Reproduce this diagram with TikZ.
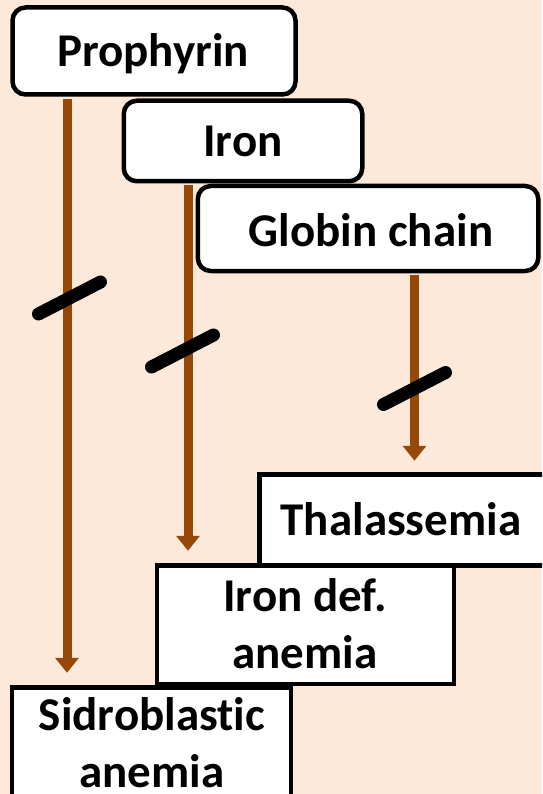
\documentclass[tikz,border=0pt]{standalone}
\usepackage{fontspec}
\setmainfont{Carlito}[Ligatures={NoCommon}]
\usetikzlibrary{arrows.meta}
\definecolor{bg}{HTML}{FDE9D9}
\definecolor{brn}{HTML}{974806}
\begin{document}
\begin{tikzpicture}[x=1pt,y=-1pt,
  rbox/.style={draw=black, line width=4.5pt, fill=white, rounded corners=13pt, inner sep=0pt},
  sbox/.style={draw=black, line width=4.5pt, fill=white, inner sep=0pt},
  lbl/.style={font=\fontsize{47}{57}\selectfont\bfseries, inner sep=0pt, anchor=base, align=center},
  arr/.style={draw=brn, line width=9pt, -{Triangle[width=23pt,length=15pt]}},
  cut/.style={line width=13pt, line cap=round, draw=black}]
\clip (0,0) rectangle (542,794);
\fill[bg] (0,0) rectangle (542,794);
% boxes
\node[rbox, minimum width=283pt, minimum height=87pt] (prop) at (154,51) {};
\node[rbox, minimum width=238.5pt, minimum height=80.5pt] (iron) at (243,141) {};
\node[rbox, minimum width=340.5pt, minimum height=85pt] (glob) at (368,228.5) {};
\node[sbox, minimum width=290pt, minimum height=91pt] (thal) at (404.5,520) {};
\node[sbox, minimum width=297pt, minimum height=118.5pt] (idef) at (305.5,624.75) {};
\node[sbox, minimum width=279pt, minimum height=115pt] (sid) at (151.25,745) {};
% labels (base = last line)
\node[lbl] (tprop) at (153,67) {Prophyrin};
\node[lbl] (tiron) at (243,157) {Iron};
\node[lbl] (tglob) at (371,247) {Globin chain};
\node[lbl] (tthal) at (401,535) {Thalassemia};
\node[lbl] (tidef) at (305,668) {Iron def.\\anemia};
\node[lbl] (tsid) at (152,787) {Sidroblastic\\anemia};
% arrows
\coordinate (x1) at (67,0);
\coordinate (x2) at (188,0);
\coordinate (x3) at (414.5,0);
\draw[arr] (x1 |- prop.south) ++(0,2) -- ([yshift=12.5pt]x1 |- sid.north);
\draw[arr] (x2 |- iron.south) ++(0,2) -- ([yshift=12.5pt]x2 |- idef.north);
\draw[arr] (x3 |- glob.south) ++(0,2) -- ([yshift=11.5pt]x3 |- thal.north);
% cut marks
\draw[cut] (38.5,314) -- (100.5,282);
\draw[cut] (151.5,367) -- (213.5,335);
\draw[cut] (383.5,404.5) -- (445.5,372.5);
\end{tikzpicture}
\end{document}
